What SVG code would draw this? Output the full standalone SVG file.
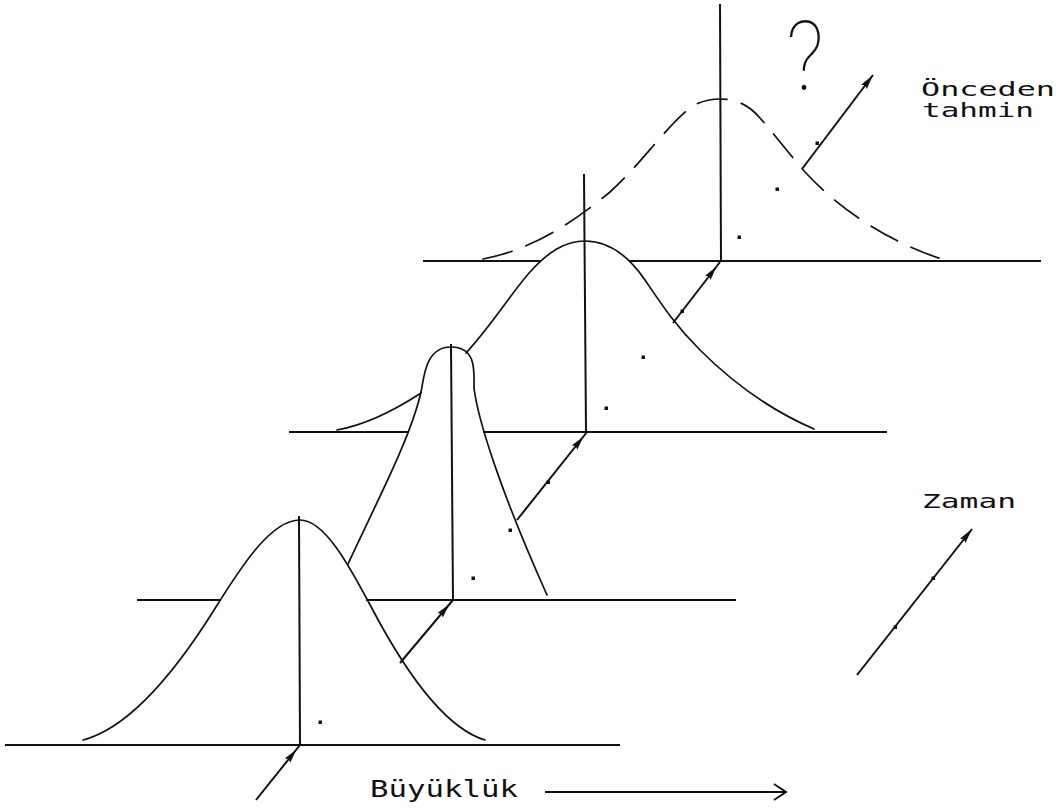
<svg xmlns="http://www.w3.org/2000/svg" width="1064" height="808" viewBox="0 0 1064 808">
<style>
.ax{stroke:#111;stroke-width:2;fill:none;stroke-linecap:square}
.cv{stroke:#111;stroke-width:1.7;fill:none;stroke-linecap:round;stroke-linejoin:round}
.ds{stroke-dasharray:30 15}
.ar{stroke:#111;stroke-width:2;fill:none}
.tx{font-family:"DejaVu Sans Mono","Liberation Mono",monospace;fill:#111}
.dt{fill:#111}
</style>
<defs>
<marker id="ah" markerUnits="userSpaceOnUse" viewBox="0 0 15 8" markerWidth="15" markerHeight="8" refX="15" refY="4" orient="auto">
<path d="M0,0.5 L15,4 L0,7.5 L2,4 Z" fill="#111"/>
</marker>
<marker id="ahb" markerUnits="userSpaceOnUse" viewBox="0 0 20 8" markerWidth="20" markerHeight="8" refX="20" refY="4" orient="auto">
<path d="M0,0.5 L14,4 L0,7.5 L2,4 Z" fill="#111"/>
</marker>
</defs>
<rect width="1064" height="808" fill="#fff"/>

<g id="layer1">
<path class="ax" d="M6,745 L619,745"/>
<path class="ax" d="M299,517 L300,745"/>
<path class="cv" d="M83,740 C127,728.5 171,679 215,608.5 C243.3,563 271.7,520 300,520 C324,520 348,563 372,608.5 C409.7,679.9 447.3,728.8 485,740"/>
</g>

<g id="layer2">
<path class="ax" d="M138,600 L220,600 M367,600 L735,600"/>
<path class="ax" d="M451,345 L453,600"/>
<path class="cv" d="M348,564 C375,505 410,440 421,392 C424,378 425,347 451,347 C477,347 474,372 474,388 C478,420 500,490 547,595"/>
</g>

<g id="layer3">
<path class="ax" d="M290,432 L408,432 M484,432 L886,432"/>
<path class="ax" d="M584,175 L586,432"/>
<path class="cv" d="M337,430 C365,425 395,410 421,393"/>
<path class="cv" d="M466,353 C492,325 512,292 530,272 C548,252 565,241 585,241 C610,241 630,258 645,280 C662,305 675,325 700,350 C730,380 770,410 814,429"/>
</g>

<g id="layer4">
<path class="ax" d="M424,261 L540,261 M630,261 L1040,261"/>
<path class="ax" d="M720,5 L721,261"/>
<path class="cv ds" d="M483,259 C530,250 570,225 610,192 C640,165 665,128 690,108 C700,101 710,99 720,99 C735,99 748,104 760,118 C775,135 790,155 805,172 C840,210 890,243 945,260"/>
</g>

<g id="connectors">
<path class="ar" d="M256,800 L300,745" marker-end="url(#ahb)"/>
<path class="ar" d="M400,663 L453,600" marker-end="url(#ahb)"/>
<path class="ar" d="M517,520 L587,432" marker-end="url(#ahb)"/>
<path class="ar" d="M673,323 L720,262" marker-end="url(#ahb)"/>
<path class="ar" d="M802,169 L873,75" marker-end="url(#ah)"/>
<path class="ar" d="M857,675 L972,529" marker-end="url(#ah)"/>
<path class="ar" d="M545,792 L785,792"/>
<path class="ar" d="M774,784 L786,792 L774,800"/>
</g>

<g id="dots">
<rect class="dt" x="318.5" y="720.5" width="3.5" height="3.5"/>
<rect class="dt" x="471.5" y="576.5" width="3.5" height="3.5"/>
<rect class="dt" x="508.5" y="528.5" width="3.5" height="3.5"/>
<rect class="dt" x="604.5" y="406.5" width="3.5" height="3.5"/>
<rect class="dt" x="641.5" y="355.5" width="3.5" height="3.5"/>
<rect class="dt" x="737.5" y="235.5" width="3.5" height="3.5"/>
<rect class="dt" x="775.5" y="187.5" width="3.5" height="3.5"/>
<rect class="dt" x="546.5" y="480.5" width="3.5" height="3.5"/>
<rect class="dt" x="680.5" y="309.5" width="3.5" height="3.5"/>
<rect class="dt" x="815.5" y="141.5" width="3.5" height="3.5"/>
<rect class="dt" x="893.5" y="625.5" width="3.5" height="3.5"/>
<rect class="dt" x="931.5" y="576.5" width="3.5" height="3.5"/>
</g>

<g id="labels">
<text class="tx" x="370" y="797" font-size="23" textLength="148" lengthAdjust="spacingAndGlyphs">Büyüklük</text>
<text class="tx" x="922" y="508" font-size="19" textLength="94" lengthAdjust="spacingAndGlyphs">Zaman</text>
<text class="tx" x="921" y="96" font-size="19" textLength="134" lengthAdjust="spacingAndGlyphs">Önceden</text>
<text class="tx" x="922" y="117" font-size="19" textLength="112" lengthAdjust="spacingAndGlyphs">tahmin</text>
<text transform="translate(786,90) scale(0.9,1)" x="0" y="0" font-family="Roboto,Inter,sans-serif" font-weight="100" font-size="96" fill="#111">?</text>
</g>
</svg>
